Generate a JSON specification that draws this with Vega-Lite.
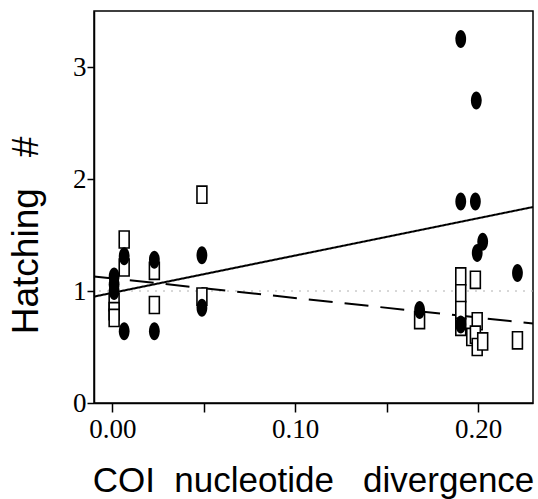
{
  "$schema": "https://vega.github.io/schema/vega-lite/v6.json",
  "autosize": "none",
  "padding": {"left": 94, "top": 11, "right": 5, "bottom": 96},
  "width": 439,
  "height": 392,
  "background": "white",
  "config": {
    "view": {"stroke": "black", "strokeWidth": 1.5},
    "axis": {
      "grid": false,
      "domainColor": "black",
      "domainWidth": 1.5,
      "tickColor": "black",
      "tickWidth": 1.5,
      "labelColor": "black",
      "titleColor": "black",
      "labelFont": "Liberation Serif",
      "labelFontSize": 27,
      "titleFont": "Liberation Sans",
      "titleFontWeight": "normal",
      "labelOverlap": false,
      "labelFlush": false
    }
  },
  "datasets": {
    "pts": [
      {"x": 0.001, "y": 0.90, "group": "open"},
      {"x": 0.001, "y": 0.82, "group": "open"},
      {"x": 0.001, "y": 0.76, "group": "open"},
      {"x": 0.0065, "y": 1.46, "group": "open"},
      {"x": 0.0065, "y": 1.21, "group": "open"},
      {"x": 0.023, "y": 1.18, "group": "open"},
      {"x": 0.023, "y": 0.875, "group": "open"},
      {"x": 0.049, "y": 1.86, "group": "open"},
      {"x": 0.049, "y": 0.95, "group": "open"},
      {"x": 0.168, "y": 0.74, "group": "open"},
      {"x": 0.1905, "y": 1.13, "group": "open"},
      {"x": 0.1905, "y": 0.98, "group": "open"},
      {"x": 0.1905, "y": 0.83, "group": "open"},
      {"x": 0.1905, "y": 0.68, "group": "open"},
      {"x": 0.1985, "y": 1.10, "group": "open"},
      {"x": 0.1995, "y": 0.73, "group": "open"},
      {"x": 0.1965, "y": 0.59, "group": "open"},
      {"x": 0.1985, "y": 0.61, "group": "open"},
      {"x": 0.1995, "y": 0.50, "group": "open"},
      {"x": 0.2025, "y": 0.55, "group": "open"},
      {"x": 0.2215, "y": 0.56, "group": "open"},
      {"x": 0.001, "y": 1.13, "group": "filled"},
      {"x": 0.001, "y": 1.06, "group": "filled"},
      {"x": 0.001, "y": 1.00, "group": "filled"},
      {"x": 0.0065, "y": 1.31, "group": "filled"},
      {"x": 0.0065, "y": 0.64, "group": "filled"},
      {"x": 0.023, "y": 1.28, "group": "filled"},
      {"x": 0.023, "y": 0.64, "group": "filled"},
      {"x": 0.049, "y": 1.32, "group": "filled"},
      {"x": 0.049, "y": 0.85, "group": "filled"},
      {"x": 0.168, "y": 0.83, "group": "filled"},
      {"x": 0.1905, "y": 3.25, "group": "filled"},
      {"x": 0.1905, "y": 1.80, "group": "filled"},
      {"x": 0.1905, "y": 0.70, "group": "filled"},
      {"x": 0.199, "y": 2.70, "group": "filled"},
      {"x": 0.1985, "y": 1.80, "group": "filled"},
      {"x": 0.2025, "y": 1.44, "group": "filled"},
      {"x": 0.1995, "y": 1.34, "group": "filled"},
      {"x": 0.2215, "y": 1.16, "group": "filled"}
    ],
    "fits": [
      {"x": -0.01, "y": 0.95, "fit": "solid"},
      {"x": 0.23, "y": 1.75, "fit": "solid"},
      {"x": -0.01, "y": 1.13, "fit": "dashed"},
      {"x": 0.23, "y": 0.71, "fit": "dashed"}
    ],
    "ref": [{"y": 1}]
  },
  "encoding": {
    "x": {
      "field": "x", "type": "quantitative",
      "scale": {"domain": [-0.01, 0.23], "nice": false, "zero": false},
      "axis": {
        "title": "COI\u00a0\u00a0nucleotide\u00a0\u00a0\u00a0divergence",
        "titleFontSize": 35,
        "titleX": 219, "titleY": 88,
        "titleAlign": "center", "titleBaseline": "alphabetic",
        "values": [0, 0.05, 0.1, 0.15, 0.2],
        "labelExpr": "round(datum.value*20) % 2 == 0 ? format(datum.value, '.2f') : ''",
        "tickSize": 9,
        "labelBaseline": "alphabetic",
        "labelPadding": 25,
        "labelDx": 5
      }
    },
    "y": {
      "field": "y", "type": "quantitative",
      "scale": {"domain": [0, 3.5], "nice": false},
      "axis": {
        "title": "Hatching\u00a0\u00a0\u00a0#",
        "titleFontSize": 37,
        "titleAngle": 270,
        "titleX": -68, "titleY": 224,
        "titleAlign": "center", "titleBaseline": "middle",
        "values": [0, 1, 2, 3],
        "format": "d",
        "tickSize": 7,
        "labelPadding": 1,
        "labelBaseline": "middle"
      }
    }
  },
  "layer": [
    {
      "data": {"name": "ref"},
      "mark": {"type": "rule", "color": "#b0b0b0", "strokeWidth": 1, "strokeDash": [2, 6]},
      "encoding": {"x": null}
    },
    {
      "data": {"name": "fits"},
      "mark": {"type": "line", "color": "black", "strokeWidth": 2},
      "encoding": {
        "detail": {"field": "fit"},
        "strokeDash": {
          "field": "fit", "type": "nominal",
          "scale": {"domain": ["solid", "dashed"], "range": [[1, 0], [24, 12]]},
          "legend": null
        }
      }
    },
    {
      "data": {"name": "pts"},
      "transform": [{"filter": "datum.group == 'open'"}],
      "mark": {
        "type": "point",
        "shape": "M-0.55,-0.95 L0.55,-0.95 L0.55,0.95 L-0.55,0.95 Z",
        "size": 324,
        "filled": true,
        "fill": "white",
        "stroke": "black",
        "strokeWidth": 1.6,
        "opacity": 1
      }
    },
    {
      "data": {"name": "pts"},
      "transform": [{"filter": "datum.group == 'filled'"}],
      "mark": {
        "type": "point",
        "shape": "M0,-1 A0.6,1 0 1,1 0,1 A0.6,1 0 1,1 0,-1 Z",
        "size": 324,
        "filled": true,
        "fill": "black",
        "opacity": 1
      }
    }
  ]
}
